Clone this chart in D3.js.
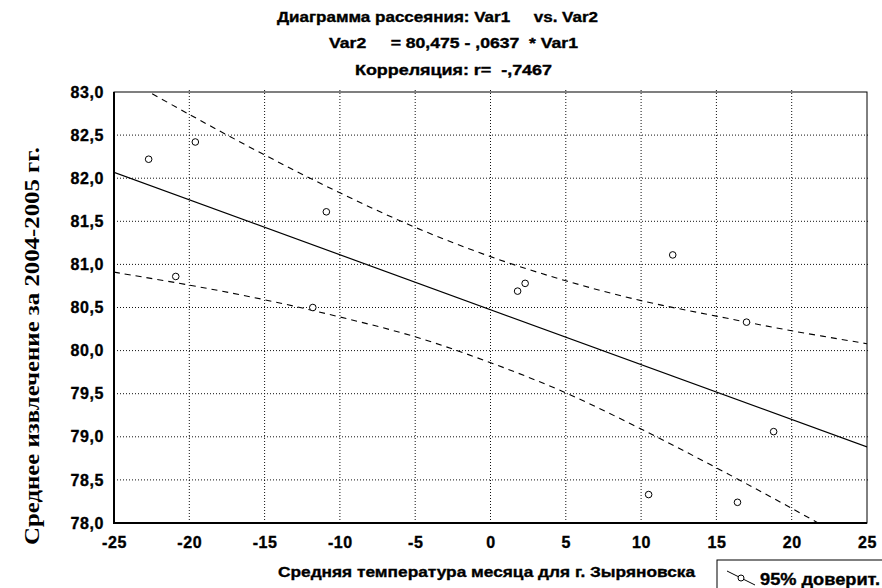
<!DOCTYPE html>
<html>
<head>
<meta charset="utf-8">
<script src="https://cdn.jsdelivr.net/npm/d3@7"></script>
<style>
  body { margin: 0; background: #fff; }
  svg { display: block; }
  .sans { font-family: "Liberation Sans", Arial, sans-serif; font-weight: bold; fill: #000; stroke: #000; stroke-width: 0.35px; }
  .serif { font-family: "Liberation Serif", "Times New Roman", serif; font-weight: bold; fill: #000; }
</style>
</head>
<body>
<svg id="chart" width="882" height="588"></svg>
<script>
// month temperature (Var1) and mean extraction (Var2)
var temps = [-22.7, -19.6, -20.9, -10.9, -11.8, 12.1, 1.8, 2.3, 17.0, 18.8, 10.5, 16.4]
var extract = [82.22, 82.42, 80.86, 81.61, 80.50, 81.11, 80.69, 80.78, 80.33, 79.06, 78.33, 78.24]

// regression Var2 = a + b * Var1 (from the title)
var coef = [80.475, -0.0637]

// 95% band
var bandX = [-25, -20, -15, -10, -5, 0, 5, 10, 15, 20, 25]
var bandUpper = [83.23, 82.74, 82.27, 81.83, 81.43, 81.09, 80.81, 80.58, 80.40, 80.23, 80.08]
var bandLower = [80.91, 80.76, 80.59, 80.39, 80.16, 79.86, 79.51, 79.09, 78.64, 78.17, 77.68]

var xTicks = [-25, -20, -15, -10, -5, 0, 5, 10, 15, 20, 25]
var yTicks = [78, 78.5, 79, 79.5, 80, 80.5, 81, 81.5, 82, 82.5, 83]

var titleLines = ["Диаграмма рассеяния: Var1     vs. Var2",
                  "Var2     = 80,475 - ,0637  * Var1",
                  "Корреляция: r=  -,7467"]
var xLabel = "Средняя температура месяца для г. Зыряновска"
var yLabel = "Среднее извлечение за 2004-2005 гг."
var legendLabel = "95% доверит."

// plot box (window.top is reserved, so no plain "top")
var pL = 114, pR = 867, pT = 92, pB = 523
var svg = d3.select("#chart")
var x = d3.scaleLinear().domain([-25, 25]).range([pL, pR])
var y = d3.scaleLinear().domain([78, 83]).range([pB, pT])
var comma = function(d) { return d3.format(".1f")(d).replace(".", ",") }
var plain = function(d) { return String(d) }

// titles
var titleX = [277, 329, 355]
var titleY = [22, 48, 75]
var titleLen = [321, 249, 197]
svg.selectAll(".title").data(titleLines).enter().append("text")
  .attr("class", "sans title")
  .attr("x", function(d, i) { return titleX[i] })
  .attr("y", function(d, i) { return titleY[i] })
  .attr("font-size", "14px")
  .attr("textLength", function(d, i) { return titleLen[i] })
  .attr("lengthAdjust", "spacingAndGlyphs")
  .style("white-space", "pre")
  .text(function(d) { return d })

// grid
svg.append("g").selectAll("line").data(xTicks.slice(1, -1)).enter().append("line")
  .attr("x1", function(d) { return x(d) }).attr("x2", function(d) { return x(d) })
  .attr("y1", pT - 2).attr("y2", pB)
  .attr("stroke", "#111").attr("stroke-dasharray", "1,2")
svg.append("g").selectAll("line").data(yTicks.slice(1, -1)).enter().append("line")
  .attr("x1", pL).attr("x2", pR + 2)
  .attr("y1", function(d) { return y(d) }).attr("y2", function(d) { return y(d) })
  .attr("stroke", "#111").attr("stroke-dasharray", "1,2")

// axes
var xAxis = svg.append("g").attr("transform", "translate(0," + pB + ")")
  .call(d3.axisBottom(x).tickValues(xTicks).tickSize(0).tickPadding(13).tickFormat(plain))
var yAxis = svg.append("g").attr("transform", "translate(" + pL + ",0)")
  .call(d3.axisLeft(y).tickValues(yTicks).tickSize(0).tickPadding(10).tickFormat(comma))
xAxis.select(".domain").remove()
yAxis.select(".domain").remove()
svg.selectAll(".tick text").attr("class", "sans").attr("font-size", "16px")
  .style("letter-spacing", "0.6px").attr("fill", "#000")
xAxis.selectAll(".tick text").attr("dy", "0.72em")

// frame
svg.append("rect").attr("x", pL).attr("y", pT).attr("width", pR - pL).attr("height", pB - pT)
  .attr("fill", "none").attr("stroke", "#000").attr("stroke-width", 1)
svg.append("path").attr("d", "M" + pL + "," + pT + "V" + pB + "H" + pR)
  .attr("fill", "none").attr("stroke", "#000").attr("stroke-width", 2)

svg.append("clipPath").attr("id", "plot").append("rect")
  .attr("x", pL).attr("y", pT).attr("width", pR - pL).attr("height", pB - pT)
var plot = svg.append("g").attr("clip-path", "url(#plot)")

// regression line
plot.append("line")
  .attr("x1", x(-25)).attr("y1", y(coef[0] + coef[1] * -25))
  .attr("x2", x(25)).attr("y2", y(coef[0] + coef[1] * 25))
  .attr("stroke", "#000").attr("stroke-width", 1.2)

// confidence band
var band = function(vals) {
  return d3.line().curve(d3.curveCatmullRom)
    .x(function(d, i) { return x(bandX[i]) })
    .y(function(d) { return y(d) })(vals)
}
plot.selectAll(".band").data([bandUpper, bandLower]).enter().append("path")
  .attr("d", band).attr("fill", "none").attr("stroke", "#000")
  .attr("stroke-width", 1.1).attr("stroke-dasharray", "6,5")

// points
plot.selectAll(".pt").data(temps).enter().append("circle")
  .attr("cx", function(d) { return x(d) })
  .attr("cy", function(d, i) { return y(extract[i]) })
  .attr("r", 3.3).attr("fill", "#fff").attr("stroke", "#000").attr("stroke-width", 1)

// axis titles
svg.append("text").attr("class", "sans").attr("x", 278).attr("y", 577)
  .attr("font-size", "15px").attr("textLength", 417).attr("lengthAdjust", "spacingAndGlyphs")
  .text(xLabel)
svg.append("text").attr("class", "serif")
  .attr("transform", "translate(39,545) rotate(-90)")
  .attr("font-size", "20px").attr("textLength", 398).attr("lengthAdjust", "spacingAndGlyphs")
  .text(yLabel)

// legend
var lg = svg.append("g")
lg.append("rect").attr("x", 717).attr("y", 560).attr("width", 200).attr("height", 50)
  .attr("fill", "#fff").attr("stroke", "#000")
lg.append("line").attr("x1", 727).attr("y1", 571).attr("x2", 755).attr("y2", 585)
  .attr("stroke", "#000")
lg.append("circle").attr("cx", 741).attr("cy", 578).attr("r", 3)
  .attr("fill", "#fff").attr("stroke", "#000")
lg.append("text").attr("class", "sans").attr("x", 760).attr("y", 585)
  .attr("font-size", "16px").attr("textLength", 120).attr("lengthAdjust", "spacingAndGlyphs")
  .text(legendLabel)
</script>
</body>
</html>
